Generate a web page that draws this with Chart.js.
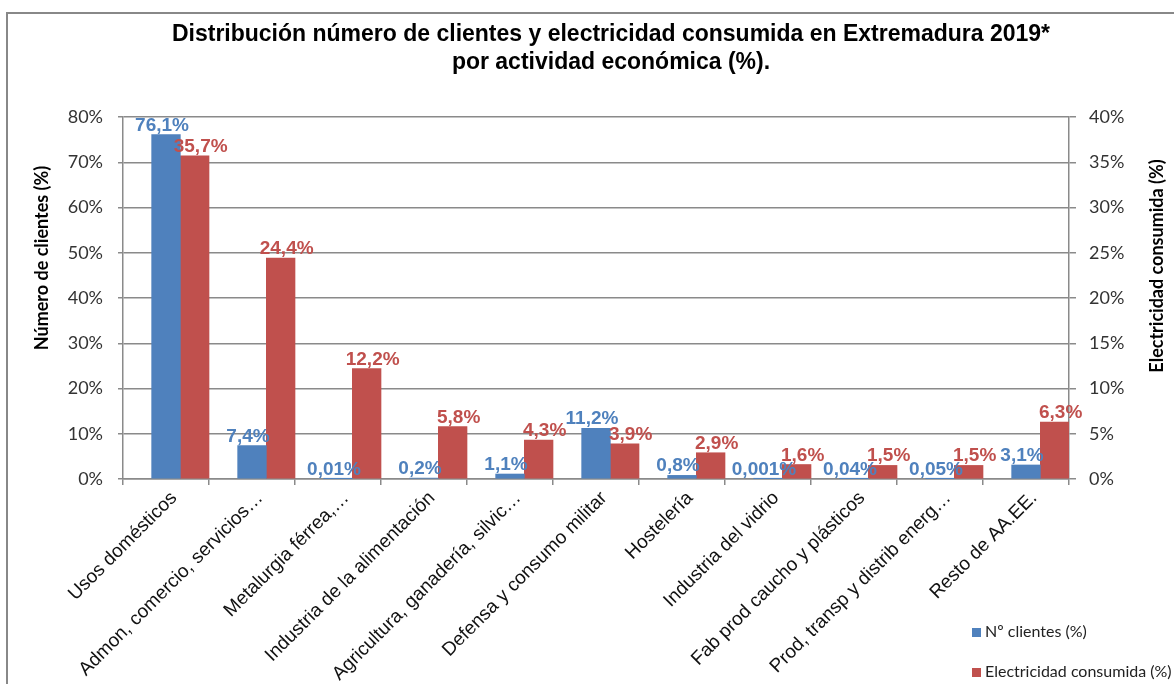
<!DOCTYPE html>
<html>
<head>
<meta charset="utf-8">
<script src="https://cdn.jsdelivr.net/npm/chart.js@4/dist/chart.umd.min.js"></script>
<style>
  html, body { margin: 0; padding: 0; background: #fff; }
  #wrap { position: relative; width: 1174px; height: 684px; }
  #frame { position: absolute; left: 6px; top: 12px; width: 1180px; height: 700px; border-left: 2px solid #888; border-top: 2px solid #888; pointer-events: none; }
  canvas { position: absolute; left: 0; top: 0; }
</style>
</head>
<body>
<div id="wrap">
  <canvas id="c" width="1174" height="684"></canvas>
  <div id="frame"></div>
</div>
<script>
const categories = [
  'Usos domésticos',
  'Admon, comercio, servicios…',
  'Metalurgia férrea,…',
  'Industria de la alimentación',
  'Agricultura, ganadería, silvic…',
  'Defensa y consumo militar',
  'Hostelería',
  'Industria del vidrio',
  'Fab prod caucho y plásticos',
  'Prod, transp y distrib energ…',
  'Resto de AA.EE.'
];
const clientes = [76.1, 7.4, 0.01, 0.2, 1.1, 11.2, 0.8, 0.001, 0.04, 0.05, 3.1];
const electricidad = [35.7, 24.4, 12.2, 5.8, 4.3, 3.9, 2.9, 1.6, 1.5, 1.5, 6.3];
const seriesNames = ['Nº clientes (%)', 'Electricidad consumida (%)'];
const titleLines = ['Distribución número de clientes y electricidad consumida en Extremadura 2019*', 'por actividad económica (%).'];
const leftAxisTitle = 'Número de clientes (%)';
const rightAxisTitle = 'Electricidad consumida (%)';

const BLUE = '#4F81BD', RED = '#C0504D', GRID = '#8a8a8a';
const fmt = v => String(v).replace('.', ',') + '%';

const overlay = {
  id: 'overlay',
  afterDatasetsDraw(chart) {
    const ctx = chart.ctx;
    ctx.save();
    ctx.font = 'bold 19px "Liberation Sans", Arial, sans-serif';
    ctx.textAlign = 'center';
    ctx.textBaseline = 'alphabetic';
    chart.data.datasets.forEach((ds, i) => {
      if (!ds.labelColor) return;
      const meta = chart.getDatasetMeta(i);
      meta.data.forEach((bar, j) => {
        ctx.fillStyle = ds.labelColor;
        ctx.fillText(fmt(ds.data[j]), bar.x + ds.labelDx, bar.y - 4);
      });
    });
    ctx.restore();
  },
  afterDraw(chart) {
    const ctx = chart.ctx;
    ctx.save();
    // Title
    ctx.fillStyle = '#000';
    ctx.font = 'bold 23px "Liberation Sans", Arial, sans-serif';
    ctx.textAlign = 'center';
    ctx.textBaseline = 'alphabetic';
    ctx.fillText(titleLines[0], 611, 41);
    ctx.fillText(titleLines[1], 611, 69);
    // Axis titles
    ctx.textBaseline = 'middle';
    ctx.font = 'bold 18px Lato, sans-serif';
    ctx.save();
    ctx.translate(42, 258);
    ctx.rotate(-Math.PI / 2);
    ctx.fillText(leftAxisTitle, 0, 0);
    ctx.restore();
    ctx.save();
    ctx.translate(1157, 266);
    ctx.rotate(-Math.PI / 2);
    ctx.fillText(rightAxisTitle, 0, 0);
    ctx.restore();
    // Legend
    ctx.font = '16px Lato, sans-serif';
    ctx.textAlign = 'left';
    const items = [[BLUE, 632], [RED, 672]];
    items.forEach((it, k) => {
      ctx.fillStyle = it[0];
      ctx.fillRect(972, it[1] - 4, 9, 9);
      ctx.fillStyle = '#222';
      ctx.fillText(seriesNames[k], 985, it[1]);
    });
    ctx.restore();
  }
};

new Chart(document.getElementById('c'), {
  type: 'bar',
  data: {
    labels: categories,
    datasets: [
      // empty spacer slot so the blue bar sits centred on its category
      { label: '', data: categories.map(() => null), yAxisID: 'y', barPercentage: 1, categoryPercentage: 1 },
      { label: seriesNames[0], data: clientes, backgroundColor: BLUE, yAxisID: 'y', barPercentage: 1, categoryPercentage: 1, labelColor: BLUE, labelDx: -4 },
      { label: seriesNames[1], data: electricidad, backgroundColor: RED, yAxisID: 'y1', barPercentage: 1, categoryPercentage: 1, labelColor: RED, labelDx: 6 }
    ]
  },
  options: {
    responsive: false,
    animation: false,
    layout: { padding: { top: 117, left: 0, right: 0, bottom: 0 } },
    plugins: { legend: { display: false }, title: { display: false }, tooltip: { enabled: false } },
    scales: {
      x: {
        afterFit(s) { s.height = 205; },
        grid: { display: true, drawOnChartArea: false, color: GRID, lineWidth: 1.5, tickLength: 6, offset: true },
        border: { display: true, color: GRID, width: 1.5 },
        ticks: { autoSkip: false, maxRotation: 45, minRotation: 45, padding: 2, labelOffset: 8, color: '#111', font: { family: '"Liberation Sans", Arial, sans-serif', size: 19 } }
      },
      y: {
        position: 'left',
        min: 0, max: 80,
        afterFit(s) { s.width = 123; },
        grid: { color: GRID, lineWidth: 1.5, tickLength: 5 },
        border: { display: true, color: GRID, width: 1.5 },
        ticks: { stepSize: 10, padding: 15, color: '#333', font: { family: 'Lato, sans-serif', size: 18 }, callback: v => v + '%' }
      },
      y1: {
        position: 'right',
        min: 0, max: 40,
        afterFit(s) { s.width = 105; },
        grid: { drawOnChartArea: false, color: GRID, lineWidth: 1.5, tickLength: 7 },
        border: { display: true, color: GRID, width: 1.5 },
        ticks: { stepSize: 5, padding: 13, color: '#333', font: { family: 'Lato, sans-serif', size: 18 }, callback: v => v + '%' }
      }
    }
  },
  plugins: [overlay]
});
</script>
</body>
</html>
